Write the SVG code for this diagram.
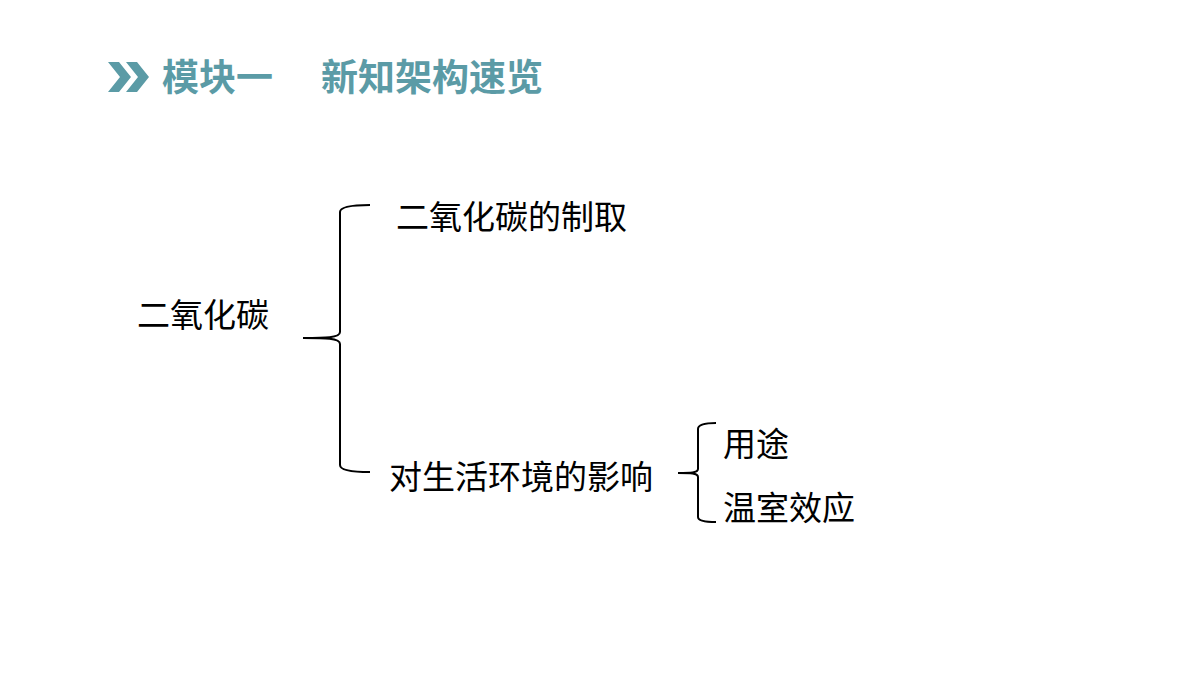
<svg xmlns="http://www.w3.org/2000/svg" width="1200" height="675" viewBox="0 0 1200 675">
<style>
.h{font-family:"Noto Sans CJK SC",sans-serif;font-weight:bold;font-size:37px;fill:#5b9ba6}
.t{font-family:"Noto Sans CJK SC",sans-serif;font-size:33px;fill:#000}
.b{fill:none;stroke:#000;stroke-width:2}
</style>
<rect width="1200" height="675" fill="#fff"/>
<g id="header">
<polygon points="108,62 119,62 131,77 119,92 108,92 120,77" fill="#5b9ba6"/>
<polygon points="126,62 137,62 149,77 137,92 126,92 138,77" fill="#5b9ba6"/>
<text class="h" x="162" y="91">模块一</text>
<text class="h" x="321" y="91">新知架构速览</text>
</g>
<g id="connectors">
<path class="b" d="M303,338 C325,338 340,338 340,332 V212 C340,207 350,205 370,205"/>
<path class="b" d="M303,338 C325,338 340,338 340,344 V465 C340,470 350,472 370,472"/>
<path class="b" d="M678,473 C690,473 698,473 698,469 V429 C698,425 705,423 716,423"/>
<path class="b" d="M678,473 C690,473 698,473 698,477 V517 C698,521 705,522 716,522"/>
</g>
<g id="n0"><text class="t" x="137" y="327">二氧化碳</text></g>
<g id="n1"><text class="t" x="396" y="229">二氧化碳的制取</text></g>
<g id="n2"><text class="t" x="389" y="489">对生活环境的影响</text></g>
<g id="n3"><text class="t" x="723" y="456">用途</text></g>
<g id="n4"><text class="t" x="723" y="520">温室效应</text></g>
</svg>
